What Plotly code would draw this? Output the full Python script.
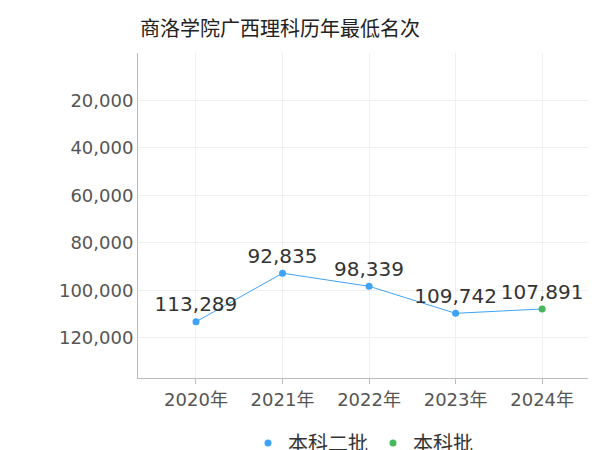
import plotly.graph_objects as go

years = ["2020年", "2021年", "2022年", "2023年", "2024年"]
s1_name = "本科二批"
s1_years = ["2020年", "2021年", "2022年", "2023年"]
s1_vals = [113289, 92835, 98339, 109742]
s2_name = "本科批"
s2_years = ["2024年"]
s2_vals = [107891]
blue = "#3fa3f5"
green = "#47b85a"
fnt = "DejaVu Sans, Noto Sans CJK SC, sans-serif"

fig = go.Figure()
fig.add_trace(go.Scatter(x=s1_years + s2_years, y=s1_vals + s2_vals, mode="lines",
                         line=dict(color=blue, width=1), showlegend=False, hoverinfo="skip"))
fig.add_trace(go.Scatter(x=s1_years, y=s1_vals, name=s1_name, mode="markers+text",
                         marker=dict(color=blue, size=7),
                         text=[f"{v:,}" for v in s1_vals], textposition="top center",
                         textfont=dict(size=20, color="#333", family=fnt)))
fig.add_trace(go.Scatter(x=s2_years, y=s2_vals, name=s2_name, mode="markers+text",
                         marker=dict(color=green, size=7),
                         text=[f"{v:,}" for v in s2_vals], textposition="top center",
                         textfont=dict(size=20, color="#333", family=fnt)))

fig.update_layout(
    width=600, height=450, paper_bgcolor="white", plot_bgcolor="white",
    margin=dict(l=130, r=20, t=45, b=80, autoexpand=False),
    font=dict(family=fnt),
    title=dict(text="商洛学院广西理科历年最低名次", x=0.22, xanchor="left", y=0.97, yanchor="top",
               font=dict(size=20, color="#222", family="Noto Sans CJK SC")),
    xaxis=dict(type="category", categoryorder="array", categoryarray=years, automargin=False,
               range=[-0.67, 4.53], showgrid=True, gridcolor="#f0f0f0",
               showline=True, linecolor="#bbb", ticks="outside", tickcolor="#bbb",
               tickfont=dict(size=18, color="#555")),
    yaxis=dict(range=[137000, 0], tickvals=[20000, 40000, 60000, 80000, 100000, 120000],
               tickformat=",", showgrid=True, gridcolor="#f0f0f0", automargin=False,
               showline=True, linecolor="#bbb", zeroline=False,
               tickfont=dict(size=18, color="#555")),
    legend=dict(orientation="h", x=0.5, xanchor="center", y=-0.14, yanchor="top",
                font=dict(size=20, color="#333", family="Noto Sans CJK SC"), itemwidth=30,
                tracegroupgap=0),
)
fig.write_html("out.html")
